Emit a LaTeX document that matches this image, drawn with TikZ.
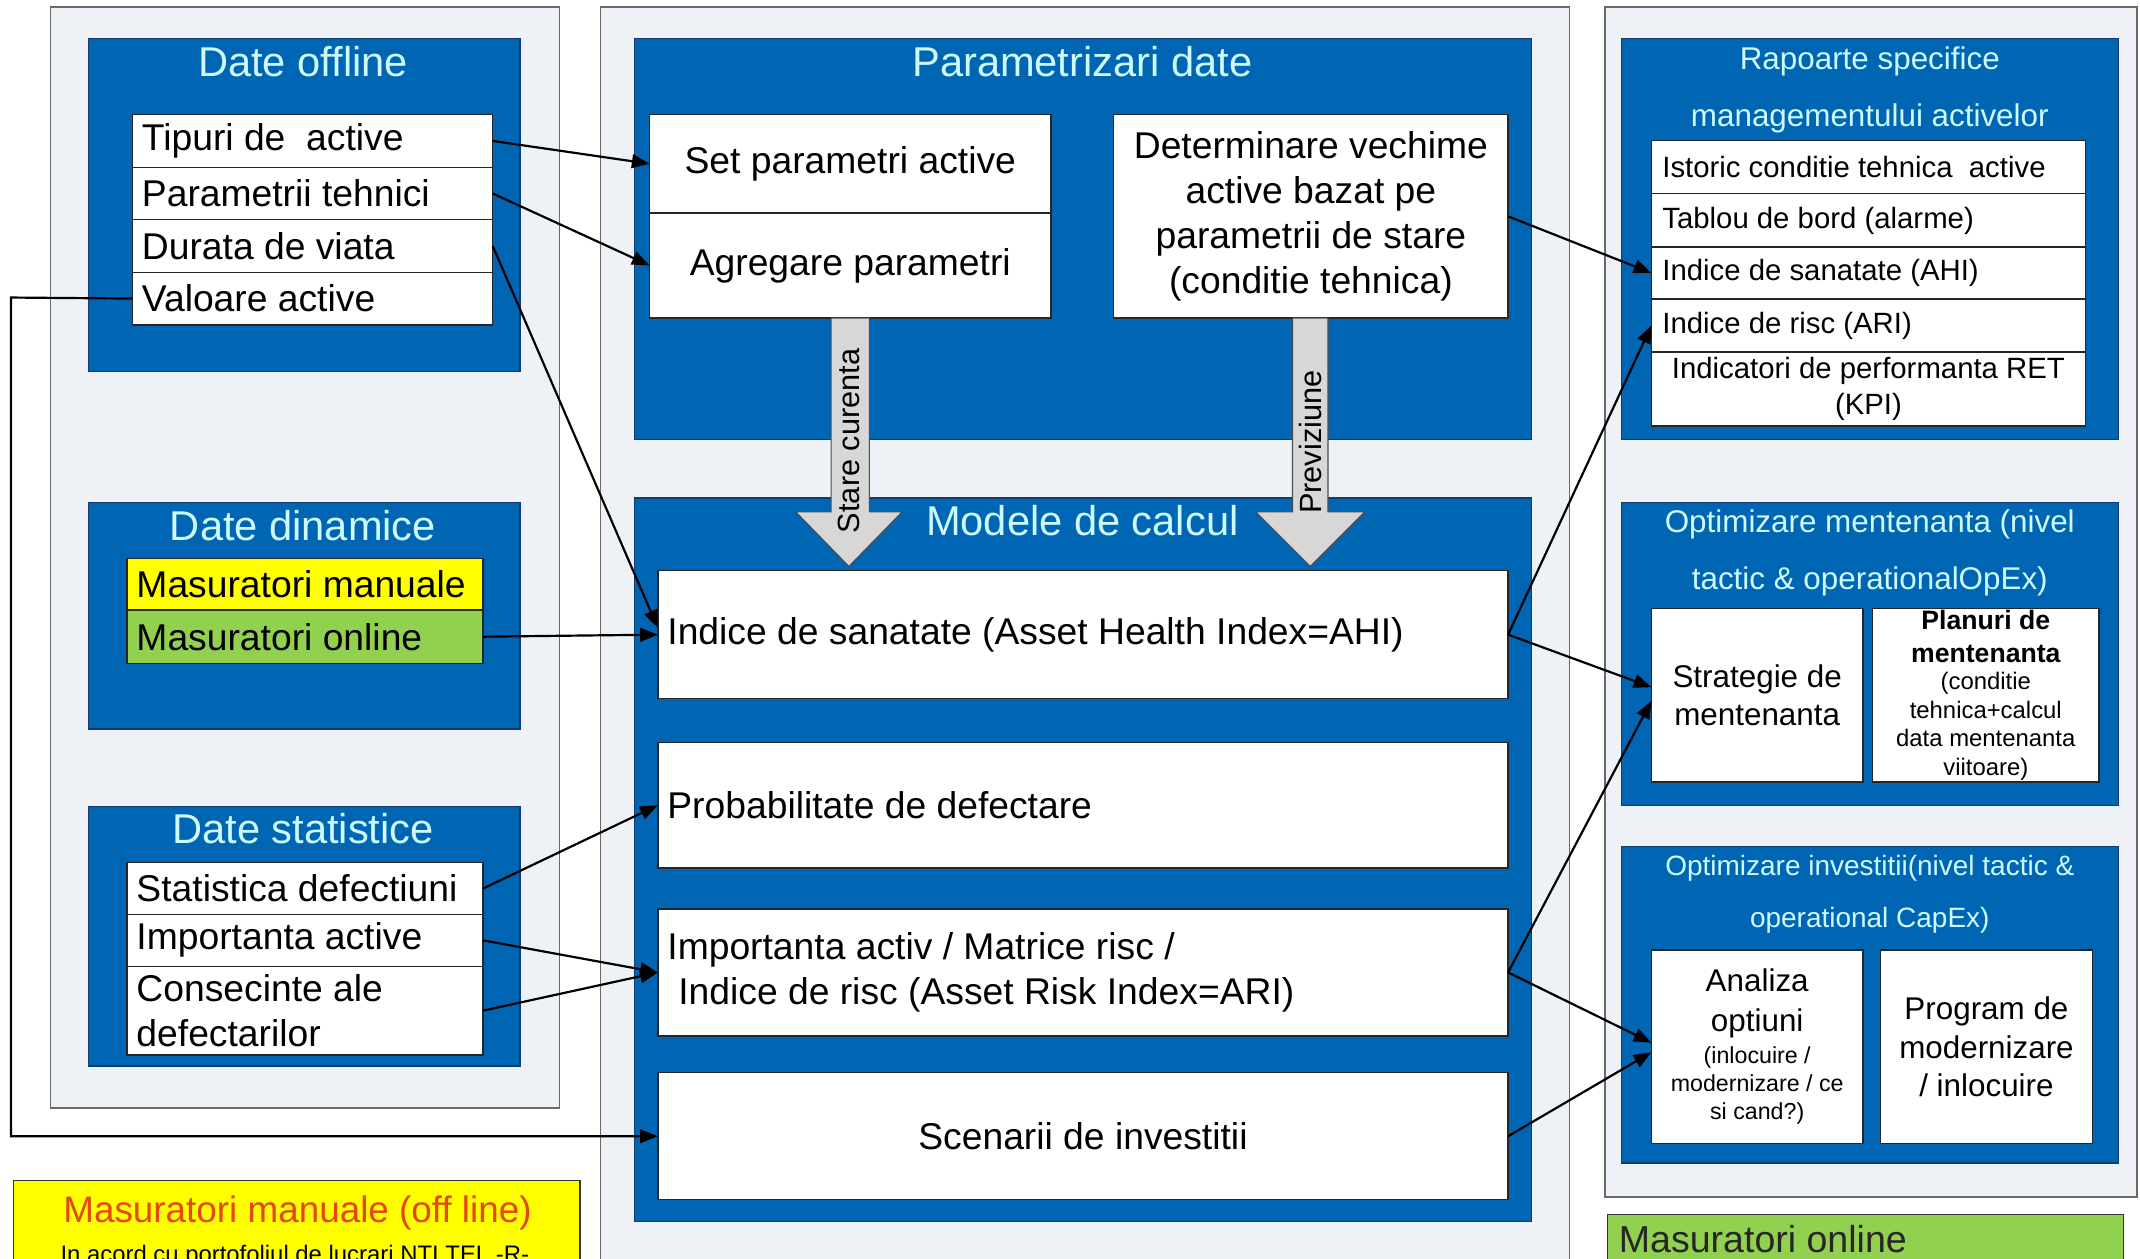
\documentclass[tikz,border=0pt]{standalone}
\usepackage{fontspec}
\setmainfont{Liberation Sans}
\usetikzlibrary{arrows.meta}
\definecolor{panelgray}{RGB}{238,241,246}
\definecolor{panelline}{RGB}{105,105,105}
\definecolor{myblue}{RGB}{0,102,179}
\definecolor{blueline}{RGB}{16,60,110}
\definecolor{titlecyan}{RGB}{205,250,255}
\definecolor{ylw}{RGB}{255,255,0}
\definecolor{grn}{RGB}{146,208,80}
\definecolor{arrgray}{RGB}{215,215,215}
\definecolor{notered}{RGB}{228,72,16}
\newcommand\fsz[2]{\fontsize{#1}{#2}\selectfont}
\begin{document}
\begin{tikzpicture}[x=1pt,y=-1pt,
 bx/.style={anchor=north west, inner sep=0pt, outer sep=0pt},
 panel/.style={bx, draw=panelline, fill=panelgray, line width=1.2pt},
 bluebox/.style={bx, draw=blueline, fill=myblue, line width=1pt},
 cell/.style={bx, draw=black!85, fill=white, line width=1pt, font=\fsz{27.3}{33}},
 small/.style={font=\fsz{21.5}{26}},
 rowl/.style 2 args={text width=#1, minimum height=#2, align=flush left, inner xsep=7pt},
 rowc/.style 2 args={text width=#1, minimum height=#2, align=flush center, inner xsep=3pt},
 ttl/.style={text=titlecyan, font=\fsz{30.5}{34}, inner sep=0pt, anchor=base},
 ttl2/.style={text=titlecyan, inner sep=0pt, align=flush center, text width=356pt},
 conn/.style={-{Triangle[length=13pt,width=10pt]}, line width=1.6pt, black},
 barrow/.style={draw=gray!60!black, fill=arrgray, line width=0.8pt},
]
\useasboundingbox (0,0) rectangle (1568,922);
\clip (0,0) rectangle (1568,922);
\fill[white] (0,0) rectangle (1568,922);

% panels
\node[panel, minimum width=373, minimum height=807] (pleft) at (37,5) {};
\node[panel, minimum width=710, minimum height=940] (pmid) at (440,5) {};
\node[panel, minimum width=390, minimum height=872] (pright) at (1176,5) {};

% blue boxes
\node[bluebox, minimum width=316, minimum height=244] (boff) at (65,28) {};
\node[bluebox, minimum width=316, minimum height=166] (bdyn) at (65,368) {};
\node[bluebox, minimum width=316, minimum height=190] (bstat) at (65,591) {};
\node[bluebox, minimum width=657, minimum height=294] (bparam) at (465,28) {};
\node[bluebox, minimum width=657, minimum height=530] (bmodel) at (465,365) {};
\node[bluebox, minimum width=364, minimum height=294] (brap) at (1188,28) {};
\node[bluebox, minimum width=364, minimum height=222] (boptm) at (1188,368) {};
\node[bluebox, minimum width=364, minimum height=232] (bopti) at (1188,620) {};

% titles
\node[ttl] (toff) at (222,56) {Date offline};
\node[ttl] (tdyn) at (222,396) {Date dinamice};
\node[ttl] (tstat) at (222,618) {Date statistice};
\node[ttl] (tparam) at (793,56) {Parametrizari date};
\node[ttl] (tmodel) at (793,392) {Modele de calcul};
\node[ttl2, font=\fsz{23}{42}] (trap) at (1370,66) {Rapoarte specifice\\managementului activelor};
\node[ttl2, font=\fsz{23}{42}] (toptm) at (1370,405) {Optimizare mentenanta (nivel\\tactic \& operationalOpEx)};
\node[ttl2, font=\fsz{20.5}{38}] (topti) at (1370,655) {Optimizare investitii(nivel tactic \&\\operational CapEx)};

% Date offline rows
\node[cell, rowl={250pt}{38.5pt}] (tip) at (97,84) {Tipuri de\ \ active};
\node[cell, rowl={250pt}{38.5pt}] (par) at (97,122.5) {Parametrii tehnici};
\node[cell, rowl={250pt}{38.5pt}] (dur) at (97,161) {Durata de viata};
\node[cell, rowl={250pt}{38.5pt}] (val) at (97,199.5) {Valoare active};

% Date dinamice rows
\node[cell, fill=ylw, rowl={247pt}{38pt}] (man) at (93,409) {Masuratori manuale};
\node[cell, fill=grn, rowl={247pt}{39pt}] (onl) at (93,447) {Masuratori online};

% Date statistice rows
\node[cell, rowl={247pt}{38pt}] (sd) at (93,632) {Statistica defectiuni};
\node[cell, rowl={247pt}{38pt}] (ia) at (93,670) {Importanta active};
\node[cell, rowl={247pt}{65pt}] (cons) at (93,708) {Consecinte ale\\defectarilor};

% Parametrizari
\node[cell, rowc={288pt}{72pt}] (set) at (476,84) {Set parametri active};
\node[cell, rowc={288pt}{77pt}] (agr) at (476,156) {Agregare parametri};
\node[cell, rowc={283pt}{149pt}] (det) at (816,84) {Determinare vechime\\active bazat pe\\parametrii de stare\\(conditie tehnica)};

% Modele de calcul
\node[cell, rowl={609pt}{94pt}] (ahi) at (482,418) {Indice de sanatate (Asset Health Index=AHI)};
\node[cell, rowl={609pt}{92pt}] (prob) at (482,544) {Probabilitate de defectare};
\node[cell, rowl={609pt}{93pt}] (iri) at (482,666) {Importanta activ / Matrice risc /\\\hspace*{8pt}Indice de risc (Asset Risk Index=ARI)};
\node[cell, rowc={617pt}{93pt}] (scen) at (482,786) {Scenarii de investitii};

% Rapoarte rows
\node[cell, small, rowl={302pt}{39pt}, inner xsep=8pt] (r1) at (1210,103) {Istoric conditie tehnica\ \ active};
\node[cell, small, rowl={302pt}{39pt}, inner xsep=8pt] (r2) at (1210,142) {Tablou de bord (alarme)};
\node[cell, small, rowl={302pt}{38pt}, inner xsep=8pt] (r3) at (1210,181) {Indice de sanatate (AHI)};
\node[cell, small, rowl={302pt}{39pt}, inner xsep=8pt] (r4) at (1210,219) {Indice de risc (ARI)};
\node[cell, small, rowc={312pt}{54pt}] (r5) at (1210,258) {Indicatori de performanta RET\\(KPI)};

% Optimizare mentenanta
\node[cell, rowc={149pt}{127pt}, font=\fsz{23}{28}] (strat) at (1210,446) {Strategie de\\mentenanta};
\node[cell, rowc={160pt}{127pt}, font=\fsz{19.5}{24}\bfseries] (plan) at (1372,446) {Planuri de\\mentenanta\\[-1pt]\fsz{17.5}{21}\mdseries (conditie\\tehnica+calcul\\data mentenanta\\viitoare)\par};

% Optimizare investitii
\node[cell, rowc={149pt}{142pt}, font=\fsz{23}{29}] (anal) at (1210,696) {Analiza\\optiuni\\[3pt]\fsz{17}{20.5}(inlocuire /\\modernizare / ce\\si cand?)\par};
\node[cell, rowc={149pt}{142pt}, font=\fsz{23}{28}] (prog) at (1378,696) {Program de\\modernizare\\/ inlocuire};

% block arrows
\draw[barrow] (609,233) -- (609,375) -- (583,375) -- (622,415) -- (661,375) -- (637,375) -- (637,233) -- cycle;
\node[rotate=90, font=\fsz{22.5}{24}, inner sep=0pt] (lstare) at (622,323) {Stare curenta};
\draw[barrow] (947,233) -- (947,375) -- (920,375) -- (960,415) -- (1000,375) -- (973,375) -- (973,233) -- cycle;
\node[rotate=90, font=\fsz{22.5}{24}, inner sep=0pt] (lprev) at (960,324) {Previziune};

% bottom notes
\node[bx, draw=black!80, fill=ylw, line width=1pt, minimum width=415, minimum height=80] (note1) at (10,865) {};
\node[text=notered, font=\fsz{27}{30}, inner sep=0pt] (note1a) at (218,889) {Masuratori manuale (off line)};
\node[font=\fsz{17.5}{20}, inner sep=0pt, anchor=base] (note1b) at (216,925) {In acord cu portofoliul de lucrari NTI TEL -R-};
\node[bx, draw=black!80, fill=grn, line width=1pt, minimum width=378, minimum height=60] (note2) at (1178,890) {};
\node[font=\fsz{27.5}{30}, text=black!85, inner sep=0pt, anchor=base west] (note2a) at (1186,918) {Masuratori online};

% connectors
\coordinate (vturn) at (8,218);
\draw[conn] (tip.east) -- (set.west);
\draw[conn] (par.east) -- (agr.west);
\draw[conn] (dur.east) -- ([yshift=5pt]ahi.west);
\draw[conn] (val.west) -- (vturn) |- (scen.west);
\draw[conn] (onl.east) -- (ahi.west);
\draw[conn] (sd.east) -- (prob.west);
\draw[conn] (ia.east) -- (iri.west);
\draw[conn] (cons.east) -- (iri.west);
\draw[conn] (det.east) -- (r3.west);
\draw[conn] (ahi.east) -- (r4.west);
\draw[conn] (ahi.east) -- ([yshift=6pt]strat.west);
\draw[conn] (iri.east) -- ([yshift=-4pt]strat.west);
\draw[conn] (iri.east) -- ([yshift=3pt]anal.west);
\draw[conn] (scen.east) -- ([yshift=-4pt]anal.west);
\end{tikzpicture}
\end{document}
